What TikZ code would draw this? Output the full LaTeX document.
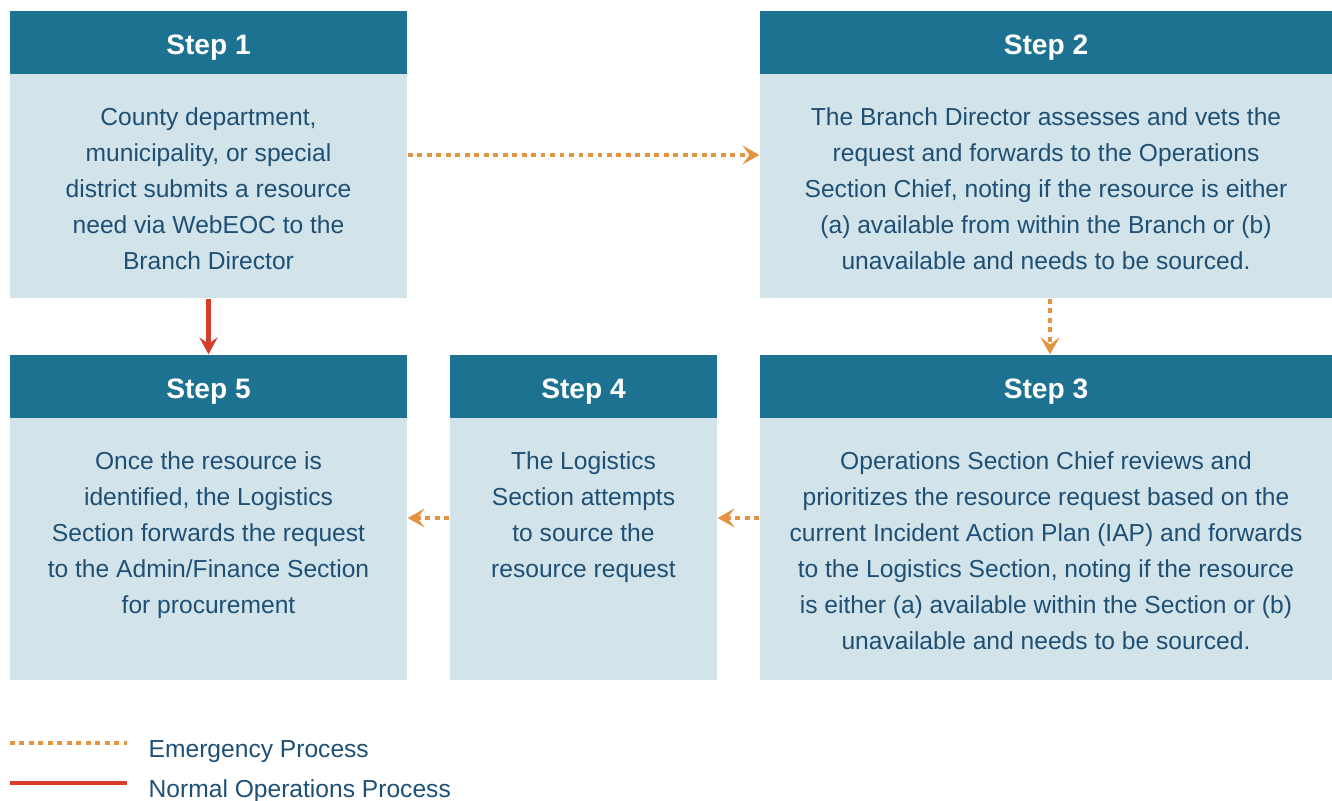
\documentclass[tikz,border=0pt]{standalone}
\usepackage{fontspec}
\setmainfont{Liberation Sans}
\usetikzlibrary{positioning,arrows.meta}

\definecolor{stephead}{RGB}{30,114,145}
\definecolor{stepbody}{RGB}{210,227,234}
\definecolor{steptext}{RGB}{30,80,118}
\definecolor{emerorange}{RGB}{228,148,64}
\definecolor{normred}{RGB}{214,62,44}

\begin{document}
\begin{tikzpicture}[
    head/.style={fill=stephead, text=white, font=\fontsize{8}{9.6}\selectfont\bfseries,
                 minimum height=6.3mm, inner sep=0pt, text height=2.35mm, text depth=0pt},
    body/.style={fill=stepbody, inner sep=0pt},
    txt/.style={text=steptext, align=center, inner sep=0pt,
                font=\fontsize{7}{10.2}\selectfont},
    emer/.style={emerorange, line width=1.3pt, dash pattern=on 1.4pt off 1.3pt,
                 -{Stealth[length=4.8pt, width=5.4pt, inset=2pt]}},
    norm/.style={normred, line width=1.2pt,
                 -{Stealth[length=4.8pt, width=5.2pt, inset=1.8pt]}},
    lgd/.style={text=steptext, anchor=west, inner sep=0pt,
                font=\fontsize{7}{8.4}\selectfont}]

    \useasboundingbox (0,0) rectangle (13.32,-8.01);

    % top row
    \node[head, minimum width=3.97cm] (h1) at (2.085,-0.425) {Step 1};
    \node[body, minimum width=3.97cm, minimum height=2.24cm] (b1) at (2.085,-1.86) {};
    \node[head, minimum width=5.72cm] (h2) at (10.46,-0.425) {Step 2};
    \node[body, minimum width=5.72cm, minimum height=2.24cm] (b2) at (10.46,-1.86) {};

    % bottom row
    \node[head, minimum width=3.97cm] (h5) at (2.085,-3.865) {Step 5};
    \node[body, minimum width=3.97cm, minimum height=2.62cm] (b5) at (2.085,-5.49) {};
    \node[head, minimum width=2.67cm] (h4) at (5.835,-3.865) {Step 4};
    \node[body, minimum width=2.67cm, minimum height=2.62cm] (b4) at (5.835,-5.49) {};
    \node[head, minimum width=5.72cm] (h3) at (10.46,-3.865) {Step 3};
    \node[body, minimum width=5.72cm, minimum height=2.62cm] (b3) at (10.46,-5.49) {};

    \node[txt, below=3.4mm of b1.north] (t1) {County department,\\municipality, or special\\district submits a resource\\need via WebEOC to the\\Branch Director};
    \node[txt, below=3.4mm of b2.north] (t2) {The Branch Director assesses and vets the\\request and forwards to the Operations\\Section Chief, noting if the resource is either\\(a) available from within the Branch or (b)\\unavailable and needs to be sourced.};
    \node[txt, below=3.4mm of b3.north] (t3) {Operations Section Chief reviews and\\prioritizes the resource request based on the\\current Incident Action Plan (IAP) and forwards\\to the Logistics Section, noting if the resource\\is either (a) available within the Section or (b)\\unavailable and needs to be sourced.};
    \node[txt, below=3.4mm of b4.north] (t4) {The Logistics\\Section attempts\\to source the\\resource request};
    \node[txt, below=3.4mm of b5.north] (t5) {Once the resource is\\identified, the Logistics\\Section forwards the request\\to the Admin/Finance Section\\for procurement};

    % connectors
    \draw[emer] ([yshift=3.1mm]b1.east) -- ([yshift=3.1mm]b2.west);
    \draw[emer] ([xshift=0.4mm]b2.south) -- ([xshift=0.4mm]h3.north);
    \draw[emer] ([yshift=3.1mm]b3.west) -- ([yshift=3.1mm]b4.east);
    \draw[emer] ([yshift=3.1mm]b4.west) -- ([yshift=3.1mm]b5.east);
    \draw[norm] (b1.south) -- (h5.north);

    % legend
    \coordinate (e1) at (0.10,-7.43);
    \coordinate (e2) at (1.27,-7.43);
    \coordinate (n1) at (0.10,-7.83);
    \coordinate (n2) at (1.27,-7.83);
    \draw[emerorange, line width=1.3pt, dash pattern=on 1.4pt off 1.3pt] (e1) -- (e2);
    \draw[normred, line width=1.2pt] (n1) -- (n2);
    \node[lgd] (le) at (1.48,-7.52) {Emergency Process};
    \node[lgd] (ln) at (1.48,-7.91) {Normal Operations Process};
\end{tikzpicture}
\end{document}
